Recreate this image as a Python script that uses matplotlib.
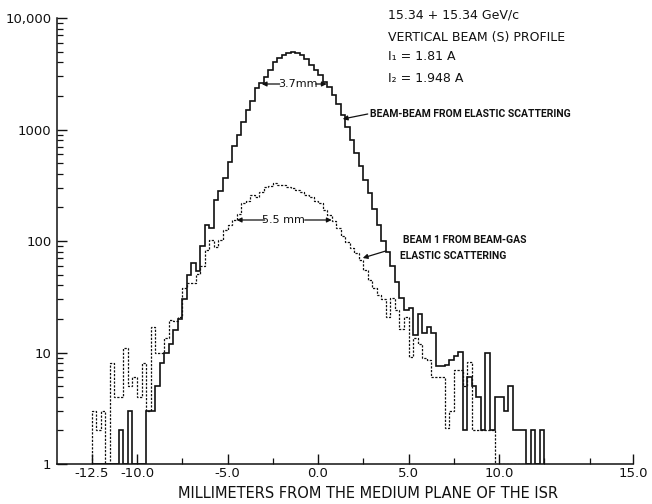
#!/usr/bin/env python3
"""Vertical beam profile at the ISR: beam-beam vs beam-gas histograms (log counts)."""
import matplotlib

matplotlib.use("Agg")
import matplotlib.pyplot as plt
import numpy as np
from matplotlib.ticker import FixedLocator, FixedFormatter, NullFormatter

INK = "#111111"

# histogram bins: 0.25 mm wide, starting at -12.5 mm
BIN_START = -12.5
BIN_WIDTH = 0.25

# counts per bin (1 = empty bin sitting on the axis)
beam_beam = [
    1, 1, 1, 1, 1, 1, 2, 1, 3, 1,
    1, 1, 3, 3, 5, 8, 10, 12, 16, 20,
    30, 50, 64, 54, 90, 139, 130, 233, 282, 364,
    515, 705, 890, 1170, 1490, 1820, 2340, 2600, 2970, 3400,
    4070, 4350, 4660, 4900, 5000, 4830, 4660, 4300, 3800, 3400,
    3090, 2690, 2400, 2050, 1700, 1350, 1050, 800, 620, 470,
    354, 267, 195, 140, 100, 80, 60, 43, 31, 24,
    25, 14.5, 22, 15, 17, 15, 7.5, 7.5, 7.7, 8.5,
    9.3, 10.2, 2, 6, 5, 4, 2, 10, 2, 4,
    4, 3, 5, 2, 2, 2, 1, 2, 1, 2,
]
beam_gas = [
    3, 2, 3, 1, 8, 4, 4, 11, 5, 6,
    4, 8, 3, 17, 10, 10, 13.5, 19.6, 19, 21,
    38, 42, 42, 51, 60, 83, 102, 88, 102, 125,
    140, 155, 175, 218, 230, 258, 250, 277, 305, 310,
    330, 320, 317, 305, 297, 285, 277, 260, 250, 230,
    218, 190, 170, 150, 130, 110, 98, 86, 78, 67,
    55, 45, 38, 33, 30, 21, 31, 24, 16.4, 21,
    9.2, 13.4, 12, 9, 8.6, 6, 6, 6, 2.1, 3,
    7, 7, 5, 8.3, 2, 2, 2, 2, 2, 1,
    1, 1, 1, 1, 1, 1, 1, 1, 1, 1,
]

y_ticks = [1, 10, 100, 1000, 10000]
y_ticklabels = ["1", "10", "100", "1000", "10,000"]
# the original figure puts its "15.0" label at the right end of the axis
x_ticks = [-12.5, -10.0, -5.0, 0.0, 5.0, 10.0, 17.4]
x_ticklabels = ["-12.5", "-10.0", "-5.0", "0.0", "5.0", "10.0", "15.0"]
x_minor = [-7.5, -2.5, 2.5, 7.5, 12.5, 15.0]

edges = BIN_START + BIN_WIDTH * np.arange(len(beam_beam) + 1)

fig = plt.figure(figsize=(6.52, 5.04), dpi=100)
ax = fig.add_axes([57 / 652, 40 / 504, 576 / 652, 446 / 504])

ax.stairs(beam_beam, edges, baseline=1, color=INK, lw=1.2)
ax.stairs(beam_gas, edges, baseline=1, color=INK, lw=0.9, ls=(0, (1.8, 1.2)))

ax.set_yscale("log")
ax.set_ylim(1, 10000)
ax.set_xlim(-14.42, 17.4)

ax.yaxis.set_major_locator(FixedLocator(y_ticks))
ax.yaxis.set_major_formatter(FixedFormatter(y_ticklabels))
ax.yaxis.set_minor_formatter(NullFormatter())
ax.xaxis.set_major_locator(FixedLocator(x_ticks))
ax.xaxis.set_major_formatter(FixedFormatter(x_ticklabels))
ax.xaxis.set_minor_locator(FixedLocator(x_minor))

for s in ["top", "right"]:
    ax.spines[s].set_visible(False)
for s in ["left", "bottom"]:
    ax.spines[s].set_linewidth(1.1)
    ax.spines[s].set_color(INK)
ax.tick_params(which="major", direction="in", length=7, width=1.0, labelsize=9.5, pad=4, colors=INK)
ax.tick_params(axis="x", which="major", pad=2)
ax.tick_params(which="minor", direction="in", length=4, width=0.9, colors=INK)

# axis title sits right of centre in the original
fig.text(368 / 652, 1 - 493 / 504, "MILLIMETERS FROM THE MEDIUM PLANE OF THE ISR",
         fontsize=10.5, ha="center", va="center", color=INK)


def px(x, y):
    """figure pixel -> data coordinates of this axes"""
    return (x - 318.3) / 18.1, 10 ** ((464 - y) / 111.5)


# header block
for txt, y in [("15.34 + 15.34 GeV/c", 15), ("VERTICAL BEAM (S) PROFILE", 37),
               ("I₁ = 1.81 A", 57), ("I₂ = 1.948 A", 78)]:
    fig.text(388 / 652, 1 - y / 504, txt, fontsize=9, va="center", ha="left", color=INK)

narrow = ["Roboto", "DejaVu Sans"]
arrow = dict(arrowstyle="-|>", lw=0.9, color=INK, mutation_scale=7, shrinkA=0, shrinkB=0)

ax.text(*px(370, 114), "BEAM-BEAM FROM ELASTIC SCATTERING", fontsize=7.5, fontweight="bold",
        family=narrow, va="center", ha="left", color=INK)
ax.annotate("", xy=px(343, 119), xytext=px(368, 114), arrowprops=arrow)

ax.text(*px(403, 240), "BEAM 1 FROM BEAM-GAS", fontsize=7.5, fontweight="bold",
        family=narrow, va="center", ha="left", color=INK)
ax.text(*px(400, 256), "ELASTIC SCATTERING", fontsize=7.5, fontweight="bold",
        family=narrow, va="center", ha="left", color=INK)
ax.annotate("", xy=px(363, 258), xytext=px(386, 251), arrowprops=arrow)

# FWHM markers
ax.text(*px(298, 84), "3.7mm", fontsize=8, va="center", ha="center", color=INK)
ax.annotate("", xy=px(262, 84), xytext=px(280, 84), arrowprops=arrow)
ax.annotate("", xy=px(327, 84), xytext=px(316, 84), arrowprops=arrow)

ax.text(*px(284, 220), "5.5 mm", fontsize=8, va="center", ha="center", color=INK)
ax.annotate("", xy=px(237, 220), xytext=px(265, 220), arrowprops=arrow)
ax.annotate("", xy=px(332, 220), xytext=px(305, 220), arrowprops=arrow)

fig.savefig("out.png", dpi=100, facecolor="white")
